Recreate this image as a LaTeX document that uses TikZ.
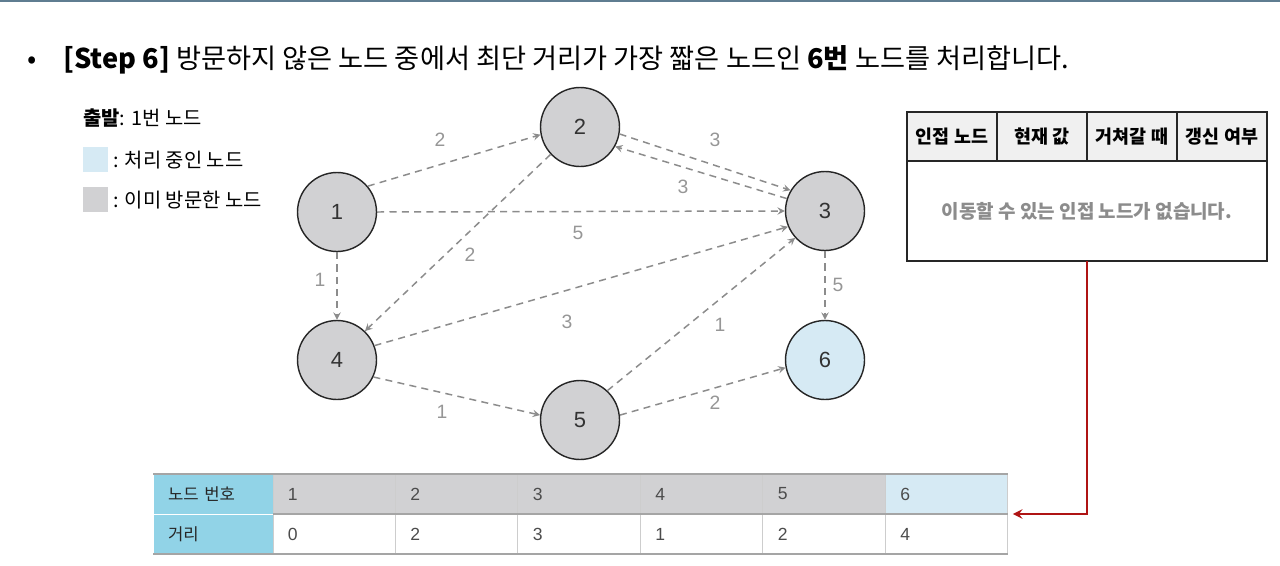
\documentclass[tikz,border=0pt]{standalone}
\usepackage{fontspec}
\setmainfont{Noto Sans CJK KR}
\newfontfamily\numfont{Liberation Sans}
\usetikzlibrary{arrows,positioning}
\definecolor{visited}{RGB}{209,209,211}
\definecolor{current}{RGB}{214,234,244}
\definecolor{headblue}{RGB}{145,211,231}
\definecolor{edgegray}{RGB}{140,140,140}
\definecolor{labelgray}{RGB}{150,150,150}
\definecolor{headgray}{RGB}{240,240,240}
\definecolor{gridgray}{RGB}{205,205,205}
\definecolor{rulegray}{RGB}{165,165,165}
\definecolor{linkred}{RGB}{175,20,20}
\definecolor{topline}{RGB}{95,125,145}
\tikzstyle{vertex} = [circle, minimum size=1.58cm, inner sep=0pt, draw=black!85, line width=0.8pt, fill=visited, text=black!80, font=\numfont\fontsize{12.5}{14}\selectfont]
\tikzstyle{edge} = [draw=edgegray, line width=0.85pt, dash pattern=on 4pt off 3pt, ->, >=stealth]
\tikzstyle{weight} = [inner sep=0pt, text=labelgray, font=\numfont\fontsize{11}{13}\selectfont]
\tikzstyle{headcell} = [rectangle, minimum width=1.8cm, minimum height=0.98cm, inner sep=0pt, outer sep=0pt, draw=black!85, line width=0.8pt, fill=headgray, font=\bfseries\fontsize{10.5}{12}\selectfont]
\tikzset{cell/.style={rectangle, minimum width=2.45cm, minimum height=0.8cm, inner xsep=0.3cm, inner ysep=0pt, outer sep=0pt, text width=1.85cm, align=left, draw=gridgray, line width=0.5pt, text=black!70, font=\numfont\fontsize{10}{12}\selectfont},
         keycell/.style={cell, minimum width=2.4cm, text width=1.8cm, fill=headblue, draw=white, text=black!85, font=\fontsize{9.5}{11}\selectfont},
         linkarrow/.style={draw=linkred, line width=1.4pt, ->, >=stealth}
}
\begin{document}
\begin{tikzpicture}[x=0.02cm, y=-0.02cm]
\useasboundingbox (0,0) rectangle (1280,565);
\draw [topline, line width=1.2pt] (0,1) -- (1280,1);
% title
\node (dot) [anchor=base west, inner sep=0pt, font=\fontsize{15.5}{18}\selectfont] at (27,68) {•};
\node (title) [anchor=base west, inner sep=0pt, font=\fontsize{15.5}{18}\selectfont] at (63,68) {{\bfseries [Step 6]} 방문하지 않은 노드 중에서 최단 거리가 가장 짧은 노드인 {\bfseries 6번} 노드를 처리합니다.};
% legend
\node (start) [anchor=west, inner sep=0pt, font=\fontsize{11.3}{13}\selectfont] at (83,118) {{\bfseries 출발}: 1번 노드};
\node (keycur) [rectangle, anchor=north west, minimum size=0.49cm, inner sep=0pt, fill=current] at (83,147) {};
\node (keycurtxt) [right=0.1cm of keycur, inner sep=0pt, font=\fontsize{11.3}{13}\selectfont] {: 처리 중인 노드};
\node (keyvis) [rectangle, anchor=north west, minimum size=0.49cm, inner sep=0pt, fill=visited] at (83,187) {};
\node (keyvistxt) [right=0.1cm of keyvis, inner sep=0pt, font=\fontsize{11.3}{13}\selectfont] {: 이미 방문한 노드};
% graph
\node (n1) [vertex] at (337,212) {1};
\node (n2) [vertex] at (580,127) {2};
\node (n3) [vertex] at (825,211) {3};
\node (n4) [vertex] at (337,360) {4};
\node (n5) [vertex] at (580,420) {5};
\node (n6) [vertex, fill=current] at (825,360) {6};
\draw [edge] (n1.40) -- (n2.191);
\draw [edge] (n1.east) -- (n3.west);
\draw [edge] (n1.south) -- (n4.north);
\draw [edge] (n2.-10) -- (n3.149);
\draw [edge] (n3.162) -- (n2.-29);
\draw [edge] (n2.223) -- (n4.46);
\draw [edge] (n4.21) -- (n3.203);
\draw [edge] (n5.47) -- (n3.222);
\draw [edge] (n4.-25) -- (n5.173);
\draw [edge] (n5.7) -- (n6.191);
\draw [edge] (n3.south) -- (n6.north);
\node (w12) [weight] at (440,140) {2};
\node (w13) [weight] at (578,233) {5};
\node (w14) [weight] at (320,280) {1};
\node (w23) [weight] at (715,140) {3};
\node (w32) [weight] at (683,187) {3};
\node (w24) [weight] at (470,255) {2};
\node (w43) [weight] at (567,322) {3};
\node (w53) [weight] at (720,325) {1};
\node (w45) [weight] at (442,412) {1};
\node (w56) [weight] at (715,403) {2};
\node (w36) [weight] at (838,285) {5};
% adjacent node table
\node (h1) [headcell, anchor=north west] at (907,112) {인접 노드};
\node (h2) [headcell, right=0pt of h1] {현재 값};
\node (h3) [headcell, right=0pt of h2] {거쳐갈 때};
\node (h4) [headcell, right=0pt of h3] {갱신 여부};
\node (adj) [rectangle, anchor=north west, minimum width=7.2cm, minimum height=2cm, inner sep=0pt, outer sep=0pt, draw=black!85, line width=0.8pt, fill=white, text=black!45, font=\bfseries\fontsize{10.8}{12}\selectfont] at (907,161) {이동할 수 있는 인접 노드가 없습니다.};
% distance table
\node (kid) [keycell, anchor=north west] at (153,474) {노드 번호};
\node (kd) [keycell, below=0pt of kid] {거리};
\node (i1) [cell, fill=visited, right=0pt of kid] {1};
\node (i2) [cell, fill=visited, right=0pt of i1] {2};
\node (i3) [cell, fill=visited, right=0pt of i2] {3};
\node (i4) [cell, fill=visited, right=0pt of i3] {4};
\node (i5) [cell, fill=visited, right=0pt of i4] {5};
\node (i6) [cell, fill=current, right=0pt of i5] {6};
\node (d1) [cell, right=0pt of kd] {0};
\node (d2) [cell, right=0pt of d1] {2};
\node (d3) [cell, right=0pt of d2] {3};
\node (d4) [cell, right=0pt of d3] {1};
\node (d5) [cell, right=0pt of d4] {2};
\node (d6) [cell, right=0pt of d5] {4};
\draw [rulegray, line width=1pt] (kid.north west) -- (i6.north east);
\draw [rulegray, line width=1pt] (i1.south west) -- (i6.south east);
\draw [rulegray, line width=1pt] (kd.south west) -- (d6.south east);
\draw [linkarrow] (adj.south) |- ([xshift=0.1cm]i6.south east);
\end{tikzpicture}
\end{document}
